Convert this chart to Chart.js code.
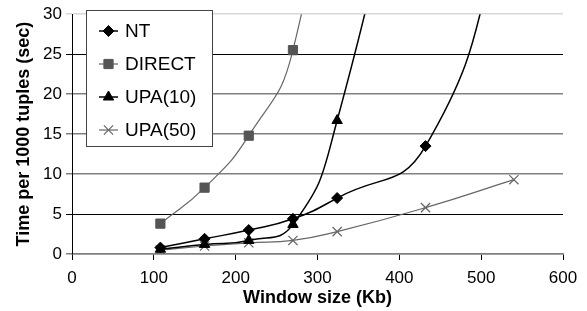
<!DOCTYPE html>
<html>
<head>
<meta charset="utf-8">
<script src="https://cdn.jsdelivr.net/npm/chart.js@4/dist/chart.umd.min.js"></script>
<style>
  html, body { margin: 0; padding: 0; background: #fff; }
  #wrap { width: 587px; height: 311px; }
</style>
</head>
<body>
<div id="wrap"><canvas id="chart" width="587" height="311"></canvas></div>
<script>
// window sizes (Kb) shared by all series
const windowSizes = [108, 162, 216, 270, 324, 432, 540];
const seriesNames = ['NT', 'DIRECT', 'UPA(10)', 'UPA(50)'];
// time per 1000 tuples (sec); last values run off the top of the chart
const ntTimes = [0.8, 1.9, 3.0, 4.4, 7.0, 13.5, 45];
const directTimes = [3.8, 8.3, 14.8, 25.5, 60];
const upa10Times = [0.6, 1.2, 1.7, 3.7, 16.7, 65];
const upa50Times = [0.5, 1.0, 1.4, 1.7, 2.8, 5.8, 9.3];
const yTicks = [0, 5, 10, 15, 20, 25, 30];
const xTicks = [0, 100, 200, 300, 400, 500, 600];

const FONT = "'Liberation Sans', Arial, Helvetica, sans-serif";

function toPoints(values) {
  return values.map((v, i) => ({ x: windowSizes[i], y: v }));
}

// grid line colours as in the scanned original
function gridColor(value) {
  if (value === 30) return '#d8d8d8';
  if (value === 25 || value === 5) return '#000000';
  return '#808080';
}

// legend drawn inside the plot, top left
const boxLegend = {
  id: 'boxLegend',
  afterDraw(chart) {
    const ctx = chart.ctx;
    const x0 = 86, y0 = 10, w = 126, h = 136;
    ctx.save();
    ctx.fillStyle = '#fff';
    ctx.fillRect(x0, y0, w, h);
    ctx.strokeStyle = '#444';
    ctx.lineWidth = 1;
    ctx.strokeRect(x0 + 0.5, y0 + 0.5, w, h);
    chart.data.datasets.forEach((ds, i) => {
      const y = 31 + i * 33;
      ctx.strokeStyle = ds.borderColor;
      ctx.lineWidth = ds.borderWidth;
      ctx.beginPath();
      ctx.moveTo(99, y);
      ctx.lineTo(118, y);
      ctx.stroke();
      ctx.fillStyle = ds.pointBackgroundColor;
      ctx.strokeStyle = ds.pointBorderColor;
      ctx.lineWidth = ds.pointBorderWidth;
      Chart.helpers.drawPoint(ctx, {
        pointStyle: ds.pointStyle,
        radius: ds.pointRadius,
        rotation: 0,
        borderWidth: ds.pointBorderWidth
      }, 108.5, y);
      ctx.fillStyle = '#000';
      ctx.font = '19px ' + FONT;
      ctx.textBaseline = 'middle';
      ctx.textAlign = 'left';
      ctx.fillText(ds.label, 125, y + 1);
    });
    ctx.restore();
  }
};

const ctx = document.getElementById('chart').getContext('2d');

new Chart(ctx, {
  type: 'line',
  data: {
    datasets: [
      {
        label: seriesNames[0],
        data: toPoints(ntTimes),
        borderColor: '#000',
        borderWidth: 1.5,
        pointStyle: 'rectRot',
        pointRadius: 5.5,
        pointBackgroundColor: '#000',
        pointBorderColor: '#000',
        pointBorderWidth: 1,
        tension: 0.5
      },
      {
        label: seriesNames[1],
        data: toPoints(directTimes),
        borderColor: '#666',
        borderWidth: 1.2,
        pointStyle: 'rect',
        pointRadius: 6.5,
        pointBackgroundColor: '#555',
        pointBorderColor: '#555',
        pointBorderWidth: 1,
        tension: 0.5
      },
      {
        label: seriesNames[2],
        data: toPoints(upa10Times),
        borderColor: '#000',
        borderWidth: 1.5,
        pointStyle: 'triangle',
        pointRadius: 6,
        pointBackgroundColor: '#000',
        pointBorderColor: '#000',
        pointBorderWidth: 1,
        tension: 0.5
      },
      {
        label: seriesNames[3],
        data: toPoints(upa50Times),
        borderColor: '#666',
        borderWidth: 1.2,
        pointStyle: 'crossRot',
        pointRadius: 6.5,
        pointBackgroundColor: '#666',
        pointBorderColor: '#666',
        pointBorderWidth: 1.2,
        tension: 0.5
      }
    ]
  },
  options: {
    responsive: false,
    animation: false,
    layout: { padding: { top: 10, right: 24, left: 0, bottom: 0 } },
    plugins: {
      legend: { display: false },
      tooltip: { enabled: false }
    },
    scales: {
      x: {
        type: 'linear',
        min: 0,
        max: 600,
        afterBuildTicks: (scale) => { scale.ticks = xTicks.map(v => ({ value: v })); },
        afterFit: (scale) => { scale.height = 57; },
        grid: {
          drawOnChartArea: false,
          drawTicks: true,
          tickLength: 6,
          tickColor: '#000'
        },
        border: { color: '#808080', width: 1.5 },
        ticks: {
          color: '#000',
          font: { family: FONT, size: 17 },
          padding: 8,
          maxRotation: 0
        },
        title: {
          display: true,
          text: 'Window size (Kb)',
          color: '#000',
          font: { family: FONT, size: 18, weight: 'bold' },
          padding: { top: 0, bottom: 2 }
        }
      },
      y: {
        min: 0,
        max: 30,
        afterBuildTicks: (scale) => { scale.ticks = yTicks.map(v => ({ value: v })); },
        afterFit: (scale) => { scale.width = 72; },
        grid: {
          color: (c) => gridColor(c.tick.value),
          lineWidth: (c) => (c.tick.value === 25 || c.tick.value === 5) ? 1 : 1.5,
          drawTicks: true,
          tickLength: 6
        },
        border: { color: '#000', width: 1 },
        ticks: {
          color: '#000',
          font: { family: FONT, size: 17 },
          padding: 4
        },
        title: {
          display: true,
          text: 'Time per 1000 tuples (sec)',
          color: '#000',
          font: { family: FONT, size: 18, weight: 'bold' },
          padding: { top: 13, bottom: 0 }
        }
      }
    }
  },
  plugins: [boxLegend]
});
</script>
</body>
</html>
